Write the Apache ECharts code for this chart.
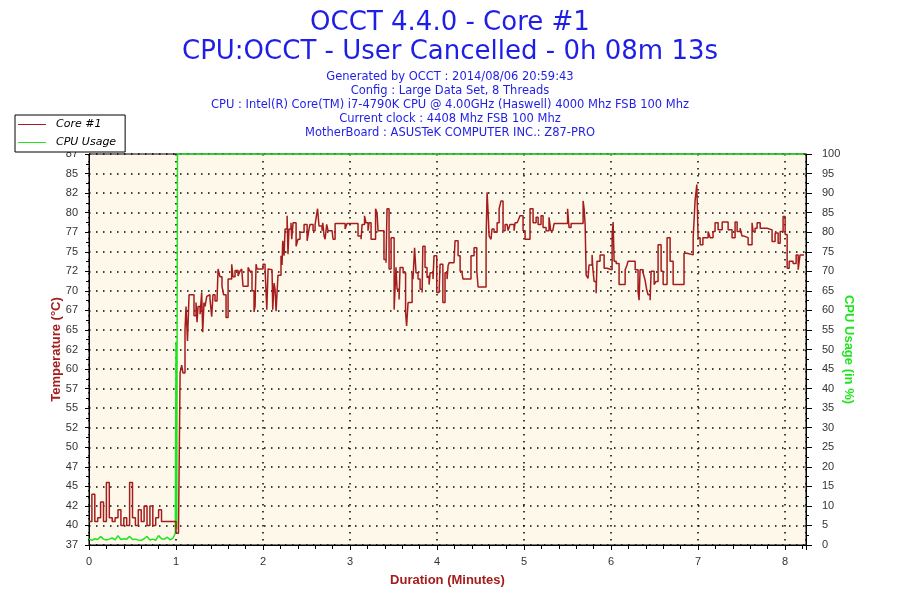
<!DOCTYPE html>
<html>
<head>
<meta charset="utf-8">
<script src="https://cdn.jsdelivr.net/npm/echarts@6/dist/echarts.min.js"></script>
<style>
  html, body { margin: 0; padding: 0; background: #fff; }
  #main { width: 900px; height: 600px; }
</style>
</head>
<body>
<div id="main"></div>
<script>
// 标题文字
var titleLines = ['OCCT 4.4.0 - Core #1', 'CPU:OCCT - User Cancelled - 0h 08m 13s'];
var infoLines = [
  'Generated by OCCT : 2014/08/06 20:59:43',
  'Config : Large Data Set, 8 Threads',
  'CPU : Intel(R) Core(TM) i7-4790K CPU @ 4.00GHz (Haswell) 4000 Mhz FSB 100 Mhz',
  'Current clock : 4408 Mhz FSB 100 Mhz',
  'MotherBoard : ASUSTeK COMPUTER INC.: Z87-PRO'
];

// 温度数据 [秒, °C]
var tempIdle = [[0,40.5],[2,44],[4,40.5],[6,41],[8,43],[10,40.5],[12,45.5],[14,41],[16,40.5],[18,41],[20,42],[22,40],[24,41],[26,40],[28,45.5],[30,41],[32,40],[34,42],[36,40.5],[38,42.5],[40,40],[42,42.5],[44,40],[46,41],[48,42],[50,40.5],[52,40.5],[54,40.5],[56,40.5],[58,40.5],[60,39],[61.7,39]];
var tempRamp = [[62.8,59.5],[63.9,60.5],[64.8,59.5],[66.2,65],[66.9,68],[67.9,63.6],[69.0,69.5],[71.0,69.5],[72.4,66.8],[73.8,68.5],[74.5,66],[75.2,68],[76.6,67],[77.7,69.8],[78.4,64.7],[79.3,68.5],[80.0,68],[81.2,69.3],[82.1,69.5],[83.4,69],[84.6,66.7],[85.5,69.5],[86.9,68.7],[88.3,69],[89.0,72.8],[90.3,71.8],[91.7,70.6],[92.8,69.5],[94.5,66.6],[95.9,71.5],[98.4,73.4],[99.3,71.8],[100.7,72.6],[102.8,71.9],[104.1,72.5],[105.3,72.8],[106.2,70.6],[109.7,73],[111.0,72.5],[112.4,70],[113.8,67.3],[114.5,68],[115.2,73.4],[115.9,72.8],[120.0,73.4],[121.4,72.8],[122.6,67.6],[123.5,72.8]];
var tempMid = [[124.1,72.7],[126.2,72.5],[126.7,67.6],[127.6,71],[128.3,70.2],[129.0,67.4],[130.3,72],[132.4,74.5],[133.1,73.3],[133.6,76.4],[134.5,74.5],[135.2,77.9],[136.6,79.6],[137.2,74.7],[137.9,77.9],[139.3,78.7],[139.8,76.6],[140.7,78.7],[142.8,75.7],[144.1,76.6],[145.5,77.5],[148.3,78.5],[150.4,76.4],[151.7,77.9],[152.4,78.5],[154.5,77.7],[155.9,78.5],[157.2,78.3],[157.6,80.5],[158.6,78.3],[160.7,77.7],[161.2,78.7],[162.1,77],[162.8,76.6],[163.9,78.5],[164.8,77.7],[167.6,77.5],[168.3,76.6],[169.7,78.6],[176.6,77.9],[177.9,78.6],[185.5,77],[187.6,76.6],[188.3,78.5],[190.0,79.6],[191.0,78.7],[192.4,77.7],[193.1,78.7],[194.5,76.6],[197.6,80.5],[198.6,80],[199.3,77.7],[203.4,74],[204.8,73.6],[205.5,80.5],[206.9,72.8],[208.3,76.8],[210.4,67.6],[211.7,73],[212.4,70.2],[213.8,68.9],[214.5,73],[216.6,72.3],[218.3,67.2],[219.0,65.5],[220.0,68.5],[222.8,72.3],[223.4,71.5],[224.5,75.5],[225.5,72.3],[226.9,71.5],[228.3,70.2],[229.7,69.8],[230.2,75.7],[231.7,73],[233.1,71.7],[233.8,71.9],[234.5,70.8],[235.2,72.3],[237.2,71.5],[237.9,74.5],[239.8,69.8],[241.4,69.6]];
var tempLate = [[242.1,73.4],[244.0,68.5],[245.5,72.3],[246.9,71.5],[247.6,73.2],[248.3,73.6],[251.7,73.8],[252.4,76.4],[254.5,74.5],[255.9,72.5],[257.3,72.1],[257.9,71.5],[263.4,74.5],[265.5,75.5],[267.4,72.5],[268.3,70.5],[273.8,76.6],[274.5,82.6],[275.2,80],[275.9,77],[277.2,76.6],[277.9,77.9],[279.3,77.5],[281.4,78.7],[282.8,80.5],[284.1,81.5],[285.5,77.7],[286.9,78.5],[288.3,78.3],[289.0,77.7],[290.3,78.5],[293.1,77.7],[293.8,78.7],[295.2,78.5],[295.9,79],[297.2,79.6],[299.3,77.7],[300.7,76.6],[304.1,80.5],[306.2,78.7],[308.3,79.4],[309.7,78.5],[311.7,79.6],[313.1,78.1],[315.2,77.7],[317.2,79.4],[318.4,77.7],[319.8,77.9],[320.7,78.6],[330.0,80.5],[331.0,78.1],[332.4,78.6],[340.7,81.5],[341.4,80.5],[342.1,78.5]];
var tempEnd = [[342.8,72],[344.1,71.6],[344.8,73.3],[346.9,74.6],[347.4,72.9],[348.3,71.2],[349.7,69.7],[350.3,73.8],[352.4,74.6],[355.2,72.9],[357.2,72.7],[360.7,77.2],[361.4,78.8],[362.1,73.8],[363.5,73.5],[365.5,70.8],[369.7,72.7],[371.0,73.3],[371.7,73.8],[376.6,72.7],[378.6,69.9],[379.3,68.8],[380.0,72.7],[382.1,72.3],[383.4,71.4],[384.6,70.1],[385.5,69.5],[386.9,68.8],[387.6,72.5],[389.7,70.8],[391.0,71.2],[392.4,75.9],[394.5,72.5],[395.9,70.8],[398.6,76.8],[400.7,73.8],[402.8,70.8],[410.3,74.8],[412.4,74.6],[416.6,76.8],[417.9,81.5],[419.1,83.6],[420.0,76.8],[421.4,75.9],[423.3,76.8],[426.9,77.6],[427.6,77.2],[428.3,76.8],[430.3,77.6],[431.7,78.7],[433.8,77.8],[436.6,78.8],[440.7,77.8],[443.4,76.8],[445.5,78.8],[446.9,77.6],[449.0,78.0],[450.3,77.0],[451.7,76.8],[454.5,75.9],[457.2,78.7],[457.9,77.6],[459.3,78],[460.7,78.7],[462.8,78],[467.6,77.8],[471.0,76.3],[473.1,77.4],[475.2,76.1],[476.6,77.6],[478.6,79.5],[480.0,77.2],[481.4,72.9],[482.8,73.8],[485.5,73.5],[487.6,74.6],[489.0,72.7],[490.3,74.6],[493.0,74.6]];

// CPU 占用 [秒, %]
var cpuLoad = [[0,1.5],[2,1.2],[4,1.6],[6,1.4],[8,2.2],[10,1.5],[12,1.3],[14,1.5],[16,1.8],[18,1.3],[20,2.4],[22,1.4],[24,1.6],[26,1.5],[28,2.2],[30,1.4],[32,1.5],[34,1.3],[36,1.2],[38,1.6],[40,2.2],[42,1.3],[44,1.5],[46,1.2],[48,2.4],[50,1.6],[52,1.5],[54,2.0],[56,1.3],[58,1.8],[59.5,3],[60,52],[60.5,4],[61,100],[493,100]];

function toMinutes(list) {
  return list.map(function (p) { return [p[0] / 60, p[1]]; });
}

var coreData = toMinutes([].concat(tempIdle, tempRamp, tempMid, tempLate, tempEnd));
var cpuData = toMinutes(cpuLoad);

var red = '#a51c1c';
var green = '#1ee61e';
var blue = '#1e1ee6';
var labelFont = 'Liberation Sans';
var dotted = { show: true, lineStyle: { color: '#000', type: [1.5, 5.5], width: 1.5 } };

var myChart = echarts.init(document.getElementById('main'));

var option = {
  backgroundColor: '#fff',
  animation: false,
  title: [
    {
      text: titleLines.join('\n'),
      left: 'center',
      top: 9,
      padding: 0,
      textStyle: { fontFamily: 'DejaVu Sans', fontSize: 26, fontWeight: 'normal', color: blue, lineHeight: 29 }
    },
    {
      text: infoLines.join('\n'),
      left: 'center',
      top: 70,
      padding: 0,
      textStyle: { fontFamily: 'DejaVu Sans', fontSize: 11.5, fontWeight: 'normal', color: blue, lineHeight: 14 }
    }
  ],
  legend: {
    data: ['Core #1', 'CPU Usage'],
    orient: 'vertical',
    left: 15,
    top: 115,
    icon: 'rect',
    itemWidth: 28,
    itemHeight: 1,
    itemGap: 7,
    padding: [4, 9, 4, 3],
    borderColor: '#000',
    borderWidth: 1,
    backgroundColor: '#fff',
    z: 10,
    textStyle: { fontFamily: 'DejaVu Sans', fontStyle: 'italic', fontSize: 11, color: '#000', padding: [0, 0, 0, 5] }
  },
  grid: {
    left: 89, right: 94, top: 154, bottom: 55,
    show: true, backgroundColor: '#fdf8ea', borderColor: '#000', borderWidth: 1
  },
  xAxis: {
    type: 'value',
    min: 0,
    max: 8.24,
    interval: 1,
    axisLine: { lineStyle: { color: '#000' } },
    axisTick: { length: 5, lineStyle: { color: '#000' } },
    minorTick: { show: true, splitNumber: 5, length: 4, lineStyle: { color: '#000' } },
    axisLabel: {
      color: '#333', fontSize: 11, fontFamily: labelFont, margin: 11, showMaxLabel: false,
      formatter: function (v) { return Number.isInteger(v) ? v : ''; }
    },
    splitLine: dotted,
    name: 'Duration (Minutes)',
    nameLocation: 'middle',
    nameGap: 29,
    nameTextStyle: { color: red, fontWeight: 'bold', fontSize: 13, fontFamily: labelFont }
  },
  yAxis: [
    {
      type: 'value',
      min: 37.5,
      max: 87.5,
      interval: 2.5,
      position: 'left',
      axisLine: { show: true, lineStyle: { color: '#000' } },
      axisTick: { show: true, length: 4, lineStyle: { color: '#000' } },
      minorTick: { show: true, splitNumber: 2, length: 3, lineStyle: { color: '#000' } },
      axisLabel: {
        color: '#333', fontSize: 11, fontFamily: labelFont, margin: 11,
        formatter: function (v) { return Math.floor(v); }
      },
      splitLine: dotted,
      name: 'Temperature (°C)',
      nameLocation: 'middle',
      nameRotate: 90,
      nameGap: 26,
      nameMoveOverlap: false,
      nameTextStyle: { color: red, fontWeight: 'bold', fontSize: 13, fontFamily: labelFont }
    },
    {
      type: 'value',
      min: 0,
      max: 100,
      interval: 5,
      position: 'right',
      axisLine: { show: true, lineStyle: { color: '#000' } },
      axisTick: { show: true, length: 6, lineStyle: { color: '#000' } },
      minorTick: { show: true, splitNumber: 2, length: 3, lineStyle: { color: '#000' } },
      axisLabel: { color: '#333', fontSize: 11, fontFamily: labelFont, margin: 16 },
      splitLine: { show: false },
      name: 'CPU Usage (in %)',
      nameLocation: 'middle',
      nameRotate: -90,
      nameGap: 36,
      nameMoveOverlap: false,
      nameTextStyle: { color: green, fontWeight: 'bold', fontSize: 13, fontFamily: labelFont }
    }
  ],
  series: [
    {
      name: 'CPU Usage',
      type: 'line',
      yAxisIndex: 1,
      data: cpuData,
      showSymbol: false,
      lineStyle: { color: green, width: 1.5 },
      itemStyle: { color: green }
    },
    {
      name: 'Core #1',
      type: 'line',
      yAxisIndex: 0,
      step: 'end',
      data: coreData,
      showSymbol: false,
      lineStyle: { color: red, width: 1.5 },
      itemStyle: { color: red }
    }
  ]
};

myChart.setOption(option);
</script>
</body>
</html>
